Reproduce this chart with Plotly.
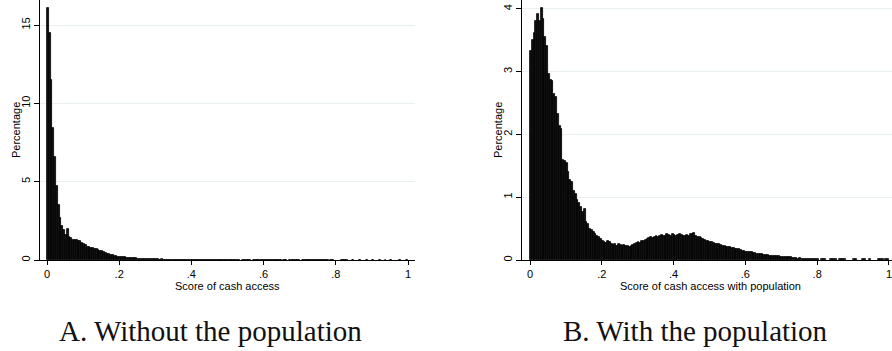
import numpy as np
import plotly.graph_objects as go

# Histogram bins: 200 bins of width 0.005 covering [0, 1]
BIN_WIDTH = 0.005
N_BINS = 200
bin_centers = (np.arange(N_BINS) + 0.5) * BIN_WIDTH

# Percentage of observations per bin, score of cash access
pct_without = [
    16.1, 14.5, 11.5, 8.4, 6.6, 4.7, 3.5, 2.7, 2.2, 1.9,
    1.6, 2.0, 1.45, 1.4, 1.3, 1.25, 1.3, 1.2, 1.2, 1.1,
    1.0, 0.95, 0.82, 0.8, 0.78, 0.75, 0.72, 0.68, 0.62, 0.58,
    0.55, 0.5, 0.45, 0.4, 0.36, 0.32, 0.3, 0.27, 0.25, 0.22,
    0.2, 0.18, 0.2, 0.17, 0.15, 0.13, 0.14, 0.12, 0.1, 0.1,
    0.09, 0.08, 0.09, 0.07, 0.06, 0.07, 0.06, 0.05, 0.05, 0.04,
    0.04, 0.04, 0.03, 0.04, 0.03, 0.03, 0.03, 0.02, 0.03, 0.02,
    0.03, 0.02, 0.02, 0.03, 0.02, 0.02, 0.02, 0.02, 0.02, 0.02,
    0.02, 0.02, 0.01, 0.02, 0.02, 0.01, 0.02, 0.01, 0.01, 0.02,
    0.01, 0.01, 0.02, 0.01, 0.01, 0.01, 0.02, 0.01, 0.01, 0.01,
    0.01, 0.01, 0.01, 0.02, 0.01, 0.01, 0.01, 0, 0.01, 0.01,
    0.01, 0.01, 0.01, 0, 0.01, 0.01, 0.01, 0.01, 0.01, 0.01,
    0.01, 0.01, 0.01, 0.01, 0.01, 0.01, 0.01, 0.01, 0.01, 0.01,
    0, 0.01, 0.01, 0, 0.01, 0.01, 0.01, 0.01, 0.01, 0.01,
    0, 0.01, 0.01, 0.01, 0.01, 0.01, 0.01, 0.01, 0.01, 0.01,
    0.01, 0.01, 0.01, 0.01, 0.01, 0.01, 0, 0.01, 0.01, 0,
    0, 0, 0, 0.01, 0.01, 0.01, 0.01, 0, 0, 0.01,
    0, 0, 0, 0.01, 0, 0, 0, 0.01, 0, 0,
    0.01, 0, 0, 0, 0.01, 0, 0, 0.01, 0, 0,
    0.01, 0, 0, 0, 0, 0.01, 0, 0, 0, 0.01,
]

# Percentage of observations per bin, score of cash access with population
pct_with = [
    3.33, 3.5, 3.62, 3.8, 3.92, 3.8, 4.02, 3.84, 3.55, 3.4,
    2.96, 2.87, 2.85, 2.65, 2.6, 2.33, 2.14, 2.08, 1.6, 1.58,
    1.55, 1.4, 1.28, 1.25, 1.1, 1.05, 0.95, 0.9, 0.85, 0.76,
    0.82, 0.6, 0.58, 0.5, 0.48, 0.44, 0.42, 0.38, 0.36, 0.33,
    0.3, 0.28, 0.27, 0.3, 0.28, 0.25, 0.24, 0.25, 0.23, 0.25,
    0.24, 0.23, 0.24, 0.23, 0.22, 0.2, 0.22, 0.24, 0.26, 0.27,
    0.28, 0.27, 0.3, 0.31, 0.32, 0.33, 0.35, 0.36, 0.35, 0.37,
    0.38, 0.37, 0.39, 0.4, 0.38, 0.39, 0.41, 0.4, 0.39, 0.41,
    0.4, 0.38, 0.4, 0.41, 0.4, 0.39, 0.38, 0.4, 0.39, 0.41,
    0.42, 0.43, 0.38, 0.37, 0.36, 0.35, 0.33, 0.32, 0.31, 0.3,
    0.29, 0.28, 0.27, 0.26, 0.25, 0.26, 0.24, 0.23, 0.22, 0.21,
    0.21, 0.2, 0.19, 0.19, 0.18, 0.17, 0.17, 0.16, 0.15, 0.14,
    0.13, 0.13, 0.12, 0.12, 0.11, 0.11, 0.1, 0.1, 0.09, 0.09,
    0.08, 0.08, 0.08, 0.07, 0.07, 0.07, 0.06, 0.06, 0.06, 0.05,
    0.05, 0.05, 0.04, 0.04, 0.04, 0.04, 0.03, 0.03, 0.03, 0.02,
    0.03, 0.02, 0.02, 0.02, 0.02, 0.02, 0.01, 0.01, 0.02, 0.01,
    0.01, 0, 0.01, 0.01, 0.01, 0, 0, 0.01, 0.01, 0.01,
    0.01, 0, 0.01, 0.01, 0.01, 0.01, 0, 0, 0, 0,
    0.01, 0.01, 0, 0, 0, 0.01, 0.01, 0, 0, 0.01,
    0, 0, 0, 0, 0.01, 0.01, 0.01, 0, 0.01, 0.01,
]

x_ticks = [0, 0.2, 0.4, 0.6, 0.8, 1.0]
x_ticktext = ["0", ".2", ".4", ".6", ".8", "1"]
y_ticks_without = [0, 5, 10, 15]
y_ticks_with = [0, 1, 2, 3, 4]

W, H = 892, 351
SANS = "Liberation Sans"
SERIF = "Liberation Serif"
GRID = "#e9f0f0"


def fx(px):
    return px / W


def fy(px):
    return 1 - px / H


def nonempty(values):
    xs = [c for c, v in zip(bin_centers, values) if v > 0]
    ys = [v for v in values if v > 0]
    return xs, ys


bar_style = dict(color="#121212", line=dict(color="#000000", width=0.8))

fig = go.Figure()
xs, ys = nonempty(pct_without)
fig.add_trace(go.Bar(x=xs, y=ys, width=BIN_WIDTH, marker=bar_style,
                     xaxis="x", yaxis="y", hoverinfo="x+y"))
xs, ys = nonempty(pct_with)
fig.add_trace(go.Bar(x=xs, y=ys, width=BIN_WIDTH, marker=bar_style,
                     xaxis="x2", yaxis="y2", hoverinfo="x+y"))

common_x = dict(
    tickvals=x_ticks, ticktext=x_ticktext, showgrid=False, zeroline=False,
    showline=True, linecolor="#000", linewidth=1, ticks="outside",
    ticklen=4, tickcolor="#000", ticklabeloverflow="allow",
    tickfont=dict(family=SANS, size=11, color="#000"),
)
common_y = dict(
    showgrid=True, gridcolor=GRID, gridwidth=1, zeroline=False,
    showline=True, linecolor="#000", linewidth=1, ticks="outside",
    ticklen=5, tickcolor="#000", tickangle=-90,
    tickfont=dict(family=SANS, size=11, color="#000"),
)
ydom = [fy(260), 1.0]

fig.update_layout(
    width=W, height=H,
    margin=dict(l=0, r=0, t=0, b=0),
    paper_bgcolor="white", plot_bgcolor="white",
    showlegend=False, bargap=0, barmode="overlay",
    xaxis=dict(domain=[fx(40), fx(415)], range=[-0.0194, 1.0194],
               anchor="y", **common_x),
    yaxis=dict(domain=ydom, range=[0, 16.6], tickvals=y_ticks_without,
               anchor="x", **common_y),
    xaxis2=dict(domain=[fx(522), 1.0], range=[-0.0223, 1.0084],
                anchor="y2", **common_x),
    yaxis2=dict(domain=ydom, range=[0, 4.14], tickvals=y_ticks_with,
                anchor="x2", **common_y),
)

annotations = [
    dict(text="Score of cash access", x=fx(227), y=fy(285.5),
         font=dict(family=SANS, size=11, color="#000")),
    dict(text="Score of cash access with population", x=fx(710), y=fy(285.5),
         font=dict(family=SANS, size=11, color="#000")),
    dict(text="Percentage", x=fx(16), y=fy(130), textangle=-90,
         font=dict(family=SANS, size=11, color="#000")),
    dict(text="Percentage", x=fx(498), y=fy(130), textangle=-90,
         font=dict(family=SANS, size=11, color="#000")),
    dict(text="A. Without the population", x=fx(210), y=fy(331),
         font=dict(family=SERIF, size=29, color="#111")),
    dict(text="B. With the population", x=fx(695), y=fy(331),
         font=dict(family=SERIF, size=29, color="#111")),
]
for a in annotations:
    a.update(xref="paper", yref="paper", showarrow=False,
             xanchor="center", yanchor="middle")
fig.update_layout(annotations=annotations)

fig.write_html("out.html")
